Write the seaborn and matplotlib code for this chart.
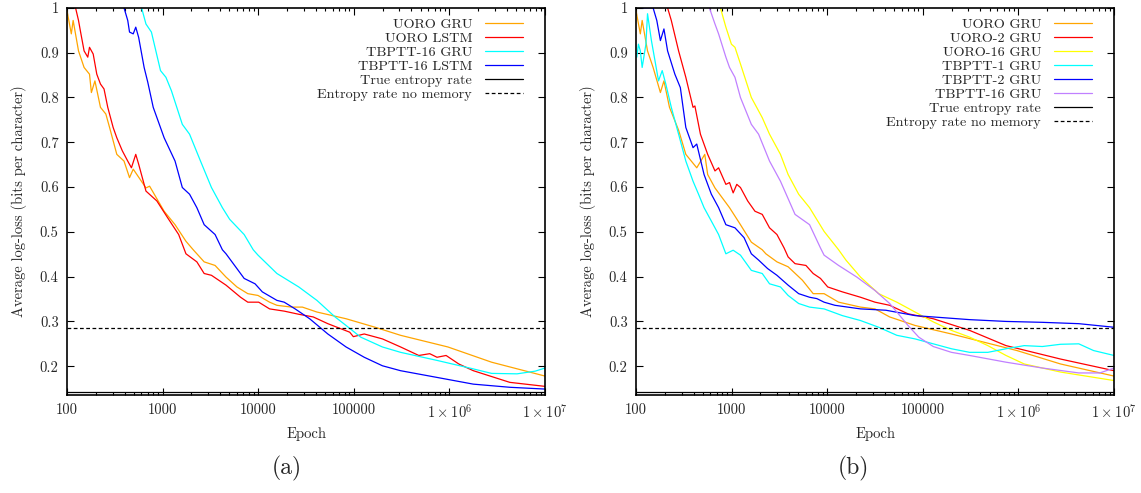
import numpy as np
import pandas as pd
import matplotlib
matplotlib.use("Agg")
import matplotlib.pyplot as plt
from matplotlib.ticker import FixedLocator, NullFormatter
import seaborn as sns

# ---- data (epoch, avg log-loss) ----
# panel (a)
a_uoro_gru_x = [100, 111, 116, 132, 151, 172, 180, 196, 224, 255, 279, 332, 395, 451, 493, 670, 731,
                1038, 1350, 1755, 2091, 2721, 3540, 4606, 5988, 7780, 9950, 13150, 15690, 22290,
                28970, 41110, 82950, 167100, 308400, 963800, 2758000, 1e7]
a_uoro_gru_y = [0.994, 0.942, 0.972, 0.904, 0.867, 0.852, 0.811, 0.837, 0.778, 0.763, 0.733, 0.673,
                0.658, 0.621, 0.640, 0.598, 0.602, 0.546, 0.516, 0.479, 0.460, 0.433, 0.425, 0.399,
                0.377, 0.362, 0.358, 0.343, 0.336, 0.332, 0.332, 0.321, 0.306, 0.287, 0.269, 0.243,
                0.209, 0.178]

a_uoro_lstm_x = [123, 132, 138, 151, 165, 172, 188, 205, 224, 244, 267, 304, 332, 379, 432, 472, 524,
                 562, 670, 871, 1133, 1473, 1755, 2282, 2721, 3243, 4606, 6536, 7780, 10120, 13150,
                 18700, 26550, 37670, 53460, 90570, 98860, 128500, 199100, 308400, 478100, 622000,
                 741300, 922600, 1253000, 1778000, 4276000, 1e7]
a_uoro_lstm_y = [1.0, 0.972, 0.949, 0.904, 0.890, 0.912, 0.897, 0.852, 0.830, 0.819, 0.778, 0.733,
                 0.710, 0.681, 0.658, 0.643, 0.673, 0.651, 0.591, 0.569, 0.531, 0.494, 0.451, 0.433,
                 0.407, 0.403, 0.381, 0.354, 0.343, 0.343, 0.328, 0.323, 0.316, 0.310, 0.295, 0.276,
                 0.266, 0.272, 0.261, 0.243, 0.224, 0.228, 0.220, 0.224, 0.205, 0.190, 0.164, 0.155]

a_tbptt_gru_x = [603, 670, 764, 951, 1084, 1237, 1608, 1915, 2492, 3243, 4220, 5028, 7130, 8870,
                 9950, 15690, 26550, 41110, 63680, 82950, 117800, 199100, 308400, 741300, 1778000,
                 2758000, 5093000, 7889000, 1e7]
a_tbptt_gru_y = [1.0, 0.964, 0.946, 0.860, 0.845, 0.815, 0.740, 0.718, 0.658, 0.599, 0.554, 0.528,
                 0.494, 0.460, 0.448, 0.407, 0.377, 0.347, 0.310, 0.291, 0.265, 0.243, 0.231, 0.213,
                 0.194, 0.184, 0.183, 0.189, 0.196]

a_tbptt_lstm_x = [395, 432, 451, 493, 524, 562, 641, 700, 798, 1038, 1350, 1608, 1915, 2282, 2721,
                  3540, 4220, 4606, 5988, 7130, 9270, 11040, 15690, 18700, 24330, 34520, 53460,
                  82950, 128500, 199100, 308400, 741300, 1778000, 4276000, 1e7]
a_tbptt_lstm_y = [1.0, 0.972, 0.946, 0.942, 0.957, 0.934, 0.867, 0.834, 0.778, 0.710, 0.658, 0.599,
                  0.584, 0.554, 0.516, 0.494, 0.460, 0.451, 0.418, 0.396, 0.384, 0.366, 0.347, 0.343,
                  0.328, 0.306, 0.272, 0.243, 0.220, 0.201, 0.190, 0.175, 0.160, 0.153, 0.149]

# panel (b)
b_uoro_gru_x = [100, 111, 116, 132, 151, 180, 196, 224, 279, 332, 432, 524, 562, 670, 951, 1237,
                1608, 2091, 2282, 2980, 3900, 5500, 7130, 9270, 13150, 22290, 31600, 45000, 82950,
                199100, 963800, 2758000, 1e7]
b_uoro_gru_y = [0.994, 0.942, 0.972, 0.904, 0.867, 0.811, 0.837, 0.778, 0.727, 0.673, 0.643, 0.673,
                0.628, 0.598, 0.554, 0.516, 0.477, 0.460, 0.451, 0.433, 0.422, 0.392, 0.362, 0.362,
                0.343, 0.332, 0.328, 0.310, 0.291, 0.272, 0.235, 0.205, 0.178]

b_uoro2_gru_x = [214, 234, 279, 332, 395, 413, 472, 562, 670, 731, 871, 951, 1038, 1133, 1237, 1473,
                 1755, 2091, 2492, 2980, 3540, 3900, 4606, 5988, 7130, 8500, 10120, 14400, 22290,
                 31600, 45000, 70000, 128500, 308400, 741300, 2758000, 1e7]
b_uoro2_gru_y = [1.0, 0.972, 0.904, 0.845, 0.778, 0.781, 0.718, 0.673, 0.636, 0.643, 0.606, 0.610,
                 0.587, 0.606, 0.599, 0.569, 0.546, 0.539, 0.509, 0.494, 0.464, 0.444, 0.429, 0.425,
                 0.407, 0.396, 0.377, 0.366, 0.354, 0.343, 0.336, 0.317, 0.306, 0.280, 0.246, 0.216,
                 0.190]

b_uoro16_gru_x = [764, 871, 995, 1084, 1237, 1608, 2091, 2492, 3243, 3900, 5028, 6536, 9270, 13150,
                  15690, 22290, 34520, 53460, 82950, 128500, 199100, 308400, 478100, 741300,
                  1150000, 2758000, 1e7]
b_uoro16_gru_y = [1.0, 0.957, 0.919, 0.912, 0.875, 0.800, 0.755, 0.718, 0.673, 0.628, 0.584, 0.554,
                  0.501, 0.460, 0.437, 0.399, 0.362, 0.343, 0.321, 0.299, 0.280, 0.265, 0.246, 0.224,
                  0.205, 0.187, 0.168]

b_tbptt1_gru_x = [102, 106, 111, 116, 127, 132, 145, 158, 172, 188, 205, 234, 279, 332, 395, 451,
                  515, 614, 731, 871, 1038, 1237, 1608, 2091, 2492, 3243, 3900, 5028, 6536, 9270,
                  14400, 22290, 34520, 53460, 82950, 128500, 199100, 308400, 478100, 741300,
                  1150000, 1778000, 2758000, 4276000, 6100000, 1e7]
b_tbptt1_gru_y = [0.890, 0.919, 0.904, 0.867, 0.919, 0.987, 0.927, 0.882, 0.837, 0.860, 0.830, 0.778,
                  0.718, 0.658, 0.613, 0.584, 0.554, 0.524, 0.494, 0.451, 0.459, 0.448, 0.414, 0.407,
                  0.384, 0.377, 0.358, 0.340, 0.332, 0.328, 0.313, 0.302, 0.287, 0.269, 0.261, 0.250,
                  0.239, 0.231, 0.231, 0.239, 0.246, 0.244, 0.249, 0.250, 0.235, 0.224]

b_tbptt2_gru_x = [116, 151, 165, 180, 196, 214, 255, 291, 332, 395, 432, 515, 614, 731, 871, 1084,
                  1350, 1608, 1915, 2380, 2980, 3900, 5028, 6536, 7780, 9270, 12050, 22290, 41110,
                  82950, 128500, 308400, 741300, 1778000, 4276000, 1e7]
b_tbptt2_gru_y = [1.0, 1.0, 0.972, 0.927, 0.953, 0.904, 0.852, 0.822, 0.733, 0.688, 0.696, 0.628,
                  0.584, 0.554, 0.516, 0.509, 0.487, 0.451, 0.437, 0.418, 0.403, 0.381, 0.362, 0.354,
                  0.351, 0.343, 0.336, 0.328, 0.325, 0.313, 0.310, 0.304, 0.300, 0.298, 0.295, 0.287]

b_tbptt16_gru_x = [586, 670, 731, 871, 951, 1084, 1237, 1608, 1915, 2492, 3243, 4606, 6536, 8500,
                   9270, 13150, 20400, 31600, 45000, 53460, 70000, 90570, 128500, 199100, 308400,
                   741300, 1778000, 4276000, 7100000, 1e7]
b_tbptt16_gru_y = [1.0, 0.964, 0.942, 0.890, 0.867, 0.845, 0.800, 0.740, 0.718, 0.658, 0.613, 0.539,
                   0.516, 0.464, 0.448, 0.425, 0.399, 0.369, 0.340, 0.321, 0.291, 0.265, 0.244, 0.231,
                   0.224, 0.209, 0.196, 0.185, 0.185, 0.196]

true_entropy = 0.143
entropy_no_memory = 0.286

y_ticks = [0.2, 0.3, 0.4, 0.5, 0.6, 0.7, 0.8, 0.9, 1.0]
y_ticklabels = ["0.2", "0.3", "0.4", "0.5", "0.6", "0.7", "0.8", "0.9", "1"]
x_ticks = [1e2, 1e3, 1e4, 1e5, 1e6, 1e7]
x_ticklabels = ["100", "1000", "10000", "100000", r"$1\times10^{6}$", r"$1\times10^{7}$"]

panel_a = [("UORO GRU", a_uoro_gru_x, a_uoro_gru_y, "#ffa500"),
           ("UORO LSTM", a_uoro_lstm_x, a_uoro_lstm_y, "#ff0000"),
           ("TBPTT-16 GRU", a_tbptt_gru_x, a_tbptt_gru_y, "#00ffff"),
           ("TBPTT-16 LSTM", a_tbptt_lstm_x, a_tbptt_lstm_y, "#0000ff")]
panel_b = [("UORO GRU", b_uoro_gru_x, b_uoro_gru_y, "#ffa500"),
           ("UORO-2 GRU", b_uoro2_gru_x, b_uoro2_gru_y, "#ff0000"),
           ("UORO-16 GRU", b_uoro16_gru_x, b_uoro16_gru_y, "#ffff00"),
           ("TBPTT-1 GRU", b_tbptt1_gru_x, b_tbptt1_gru_y, "#00ffff"),
           ("TBPTT-2 GRU", b_tbptt2_gru_x, b_tbptt2_gru_y, "#0000ff"),
           ("TBPTT-16 GRU", b_tbptt16_gru_x, b_tbptt16_gru_y, "#c080ff")]

sns.set_style("ticks")
plt.rcParams["font.family"] = ["cmr10", "DejaVu Serif"]
plt.rcParams["mathtext.fontset"] = "cm"
plt.rcParams["axes.unicode_minus"] = False


def long_form(series):
    rows = []
    for name, xs, ys, _ in series:
        for x, y in zip(xs, ys):
            rows.append({"model": name, "epoch": x, "loss": y})
    return pd.DataFrame(rows)


def draw_panel(ax, series):
    df = long_form(series)
    pal = {name: c for name, _, _, c in series}
    sns.lineplot(data=df, x="epoch", y="loss", hue="model", palette=pal,
                 hue_order=[s[0] for s in series], estimator=None, sort=False,
                 linewidth=0.9, ax=ax)
    ax.axhline(true_entropy, color="black", lw=0.9, label="True entropy rate")
    ax.axhline(entropy_no_memory, color="black", lw=0.9, ls=(0, (3, 2)),
               label="Entropy rate no memory")
    ax.set_xscale("log")
    ax.set_xlim(1e2, 1e7)
    ax.set_ylim(0.136, 1.0)
    ax.xaxis.set_major_locator(FixedLocator(x_ticks))
    ax.set_xticklabels(x_ticklabels)
    ax.xaxis.set_minor_formatter(NullFormatter())
    ax.set_yticks(y_ticks)
    ax.set_yticklabels(y_ticklabels)
    ax.tick_params(which="both", direction="in", top=True, right=True, labelsize=10.5,
                   color="black", width=0.8)
    ax.tick_params(which="major", length=5, pad=6)
    ax.tick_params(which="minor", length=2.5)
    for sp in ax.spines.values():
        sp.set_linewidth(1.2)
        sp.set_color("black")
    ax.set_xlabel("Epoch", fontsize=10.5, labelpad=4)
    ax.set_ylabel("Average log-loss (bits per character)", fontsize=10.5, labelpad=9)
    handles, labels = ax.get_legend_handles_labels()
    ax.legend(handles, labels, loc="upper right", frameon=False, markerfirst=False,
              fontsize=10.2, handlelength=2.7, labelspacing=0.08, borderaxespad=0.3,
              handletextpad=0.9, bbox_to_anchor=(0.975, 1.0))


fig = plt.figure(figsize=(11.41, 4.93), dpi=100)
ax_a = fig.add_axes([0.0587, 0.199, 0.419, 0.785])
ax_b = fig.add_axes([0.5574, 0.199, 0.419, 0.785])
draw_panel(ax_a, panel_a)
draw_panel(ax_b, panel_b)

fig.text(0.251, 0.05, "(a)", ha="center", va="center", fontsize=17)
fig.text(0.748, 0.05, "(b)", ha="center", va="center", fontsize=17)

fig.savefig("out.png", dpi=100)
